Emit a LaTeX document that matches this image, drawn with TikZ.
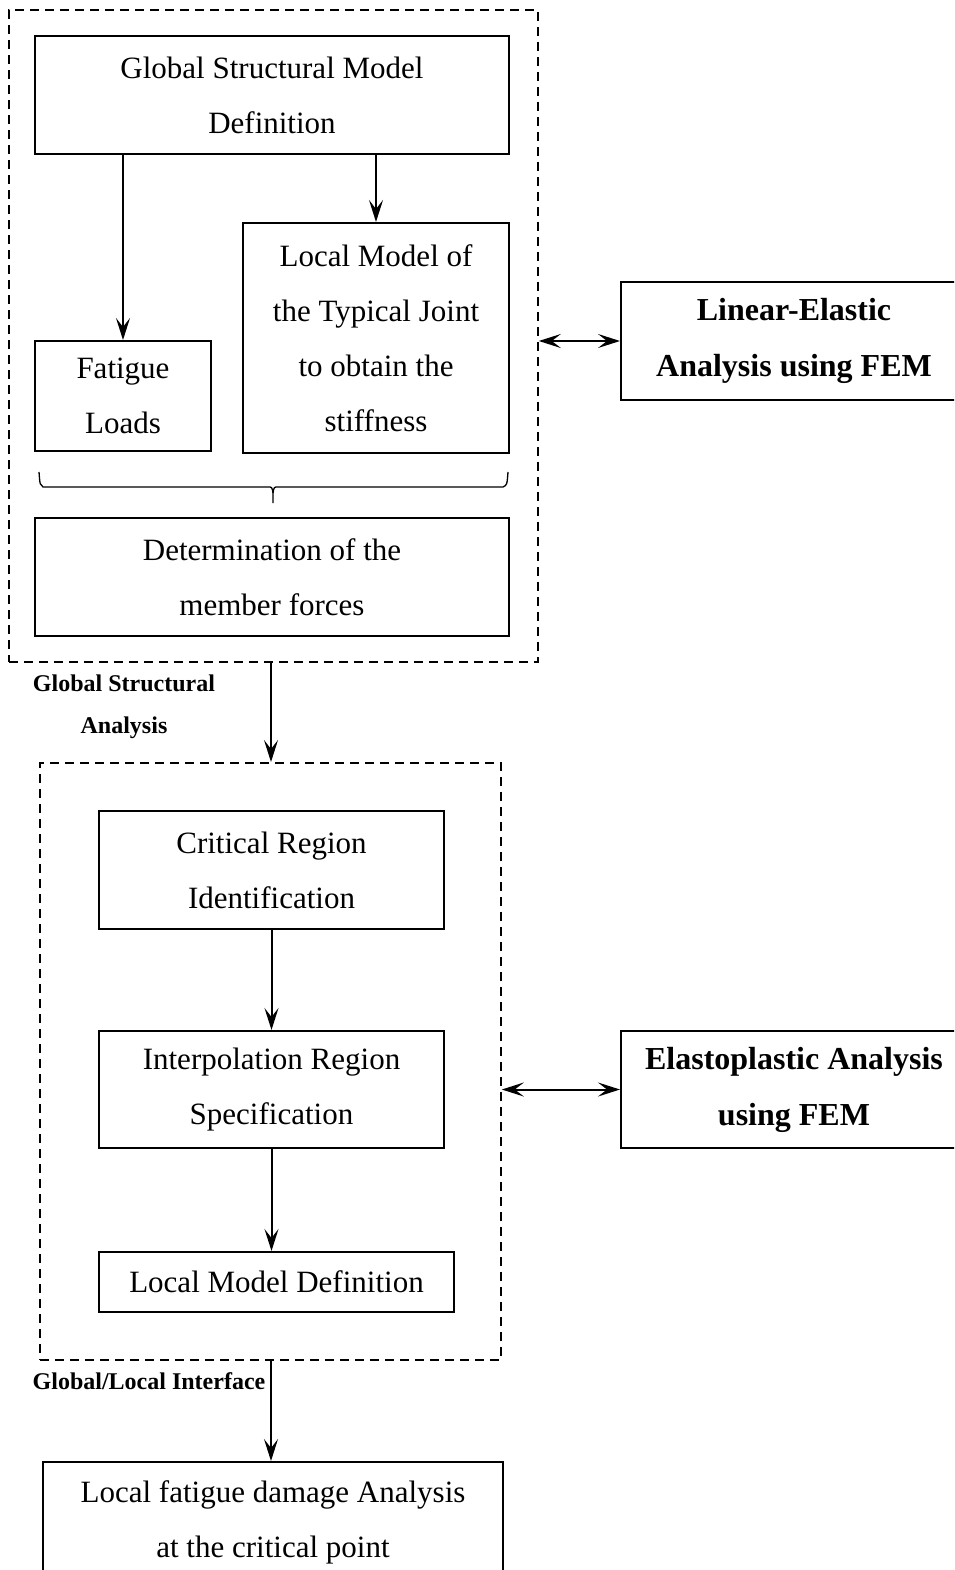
\documentclass[tikz,border=0pt]{standalone}
\usepackage{fontspec}
\setmainfont{Liberation Serif}
\usetikzlibrary{arrows.meta}
\begin{document}
\begin{tikzpicture}[x=1pt,y=-1pt,
  box/.style={draw, line width=2pt, inner sep=0pt, align=center, anchor=north west,
    font=\fontsize{31}{55}\selectfont},
  bbox/.style={box, font=\fontsize{32}{56}\selectfont\bfseries},
  dbox/.style={draw, line width=1.8pt, dash pattern=on 9pt off 6pt, inner sep=0pt, anchor=north west},
  lbl/.style={align=center, inner sep=0pt, font=\fontsize{24}{42}\selectfont\bfseries},
  arr/.style={line width=2pt, -{Stealth[length=22pt,width=14pt,inset=9pt]}},
  darr/.style={line width=2pt, {Stealth[length=22pt,width=14pt,inset=9pt]}-{Stealth[length=22pt,width=14pt,inset=9pt]}},
  bracestyle/.style={line width=1.3pt}
]
\clip (0,0) rectangle (954,1570);
\fill[white] (0,0) rectangle (954,1570);

% dashed groups
\node[dbox, minimum width=529pt, minimum height=652pt] (g1) at (8,9) {};
\node[dbox, minimum width=461pt, minimum height=597pt] (g2) at (39,762) {};

% top group
\node[box, minimum width=474pt, minimum height=118pt] (gsm) at (34,35) {Global Structural Model\\Definition};
\node[box, minimum width=176pt, minimum height=110pt] (fat) at (34,340) {Fatigue\\Loads};
\node[box, minimum width=266pt, minimum height=230pt] (joint) at (242,222) {Local Model of\\the Typical Joint\\to obtain the\\stiffness};
\node[box, minimum width=474pt, minimum height=118pt] (det) at (34,517) {Determination of the\\member forces};

% brace
\coordinate (b1) at (39,472);
\coordinate (b2) at (508,472);
\coordinate (bt) at (273,503);
\draw[bracestyle] (b1) .. controls (40,485) .. (43,487) -- (268,487)
   .. controls (272,487) .. (273,493) -- (bt);
\draw[bracestyle] (273,493) .. controls (274,487) .. (278,487) -- (503,487)
   .. controls (507,485) .. (b2);

\draw[arr] (gsm.south -| fat.north) -- (fat.north);
\draw[arr] (gsm.south -| joint.north) -- (joint.north);

% right boxes
\node[bbox, minimum width=346pt, minimum height=118pt] (lin) at (620,281) {Linear-Elastic\\Analysis using FEM};
\node[bbox, minimum width=346pt, minimum height=117pt] (ela) at (620,1030) {Elastoplastic Analysis\\using FEM};

\draw[darr] (lin.west -| g1.east) -- (lin.west);
\draw[darr] (ela.west -| g2.east) -- (ela.west);

% labels
\node[lbl] (l1) at (124,707) {Global Structural\\Analysis};
\node[lbl] (l2) at (149,1381) {Global/Local Interface};

% second group
\node[box, minimum width=345pt, minimum height=118pt] (crit) at (98,810) {Critical Region\\Identification};
\node[box, minimum width=345pt, minimum height=117pt] (interp) at (98,1030) {Interpolation Region\\Specification};
\node[box, minimum width=355pt, minimum height=60pt] (lmd) at (98,1251) {Local Model Definition};

\draw[arr] (crit.south) -- (interp.north);
\draw[arr] (interp.south) -- (interp.south |- lmd.north);

% bottom box
\node[box, minimum width=460pt, minimum height=120pt] (fin) at (42,1461) {Local fatigue damage Analysis\\at the critical point};

\coordinate (c1) at (271,661);
\coordinate (c2) at (271,762);
\draw[arr] (c1) -- (c2);
\coordinate (c3) at (271,1359);
\coordinate (c4) at (271,1461);
\draw[arr] (c3) -- (c4);
\end{tikzpicture}
\end{document}
